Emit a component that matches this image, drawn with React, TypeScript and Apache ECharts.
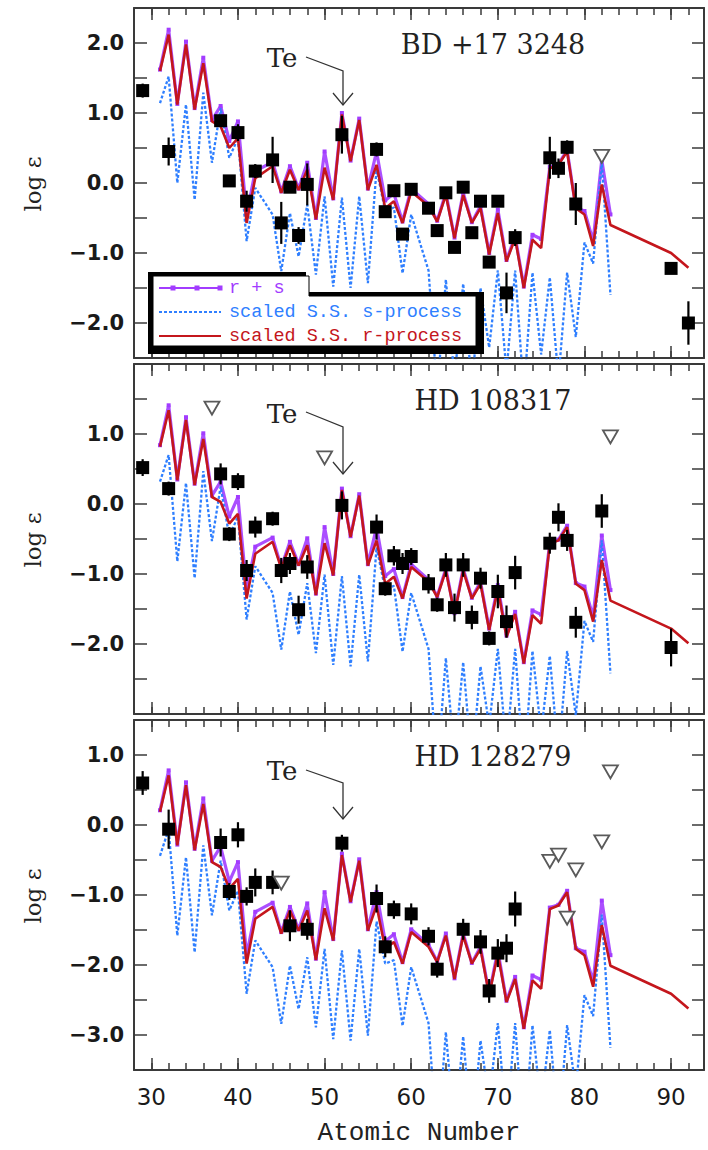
import React, { useEffect, useRef } from "react";
import * as echarts from "echarts";

// ---------- Model curves (BD +17 3248) ----------
const zR = [31, 32, 33, 34, 35, 36, 37, 38, 39, 40, 41, 42, 44, 45, 46, 47, 48, 49, 50, 51, 52, 53, 54, 55, 56, 57, 58, 59, 60, 62, 63, 64, 65, 66, 67, 68, 69, 70, 71, 72, 73, 74, 75, 76, 77, 78, 79, 80, 81, 82, 83, 90, 92];
const rBase = [1.6, 2.12, 1.12, 1.98, 1.05, 1.71, 0.88, 0.81, 0.5, 0.64, -0.57, 0.07, 0.24, -0.14, 0.19, -0.1, 0.19, -0.52, 0.22, -0.24, 0.98, 0.31, 0.9, -0.1, 0.26, -0.36, -0.26, -0.57, -0.12, -0.33, -0.55, -0.17, -0.79, -0.17, -0.57, -0.36, -1.02, -0.43, -1.12, -0.79, -1.5, -0.81, -0.93, 0.21, 0.26, 0.45, -0.36, -0.45, -0.9, -0.02, -0.6, -1.0, -1.21];

const zRS = [31, 32, 33, 34, 35, 36, 37, 38, 39, 40, 41, 42, 44, 45, 46, 47, 48, 49, 50, 51, 52, 53, 54, 55, 56, 57, 58, 59, 60, 62, 63, 64, 65, 66, 67, 68, 69, 70, 71, 72, 73, 74, 75, 76, 77, 78, 79, 80, 81, 82, 83];
const rsBase = [1.62, 2.19, 1.13, 2.02, 1.07, 1.79, 0.9, 1.1, 0.6, 0.88, -0.45, 0.17, 0.3, -0.12, 0.24, -0.08, 0.29, -0.5, 0.45, -0.22, 1.0, 0.32, 0.92, -0.08, 0.45, -0.25, -0.15, -0.55, -0.08, -0.3, -0.54, -0.14, -0.78, -0.14, -0.56, -0.33, -1.0, -0.38, -1.1, -0.76, -1.48, -0.74, -0.8, 0.23, 0.27, 0.47, -0.35, -0.4, -0.83, 0.33, -0.45];

const zS = [31, 32, 33, 34, 35, 36, 37, 38, 39, 40, 41, 42, 44, 45, 46, 47, 48, 49, 50, 51, 52, 53, 54, 55, 56, 57, 58, 59, 60, 61, 62, 63, 64, 65, 66, 67, 68, 69, 70, 71, 72, 73, 74, 75, 76, 77, 78, 79, 80, 81, 82, 83];
const sBase = [1.14, 1.52, 0.0, 1.12, -0.24, 1.29, 0.29, 1.07, 0.36, 0.64, -0.83, -0.07, -0.45, -1.26, -0.43, -1.05, -0.31, -1.31, -0.19, -1.48, -0.21, -1.5, -0.19, -1.43, 0.2, -0.4, -0.35, -1.29, -0.45, -0.85, -1.25, -3.0, -1.38, -2.8, -1.44, -2.9, -1.5, -2.35, -1.25, -2.7, -1.25, -3.0, -1.28, -2.45, -1.35, -2.8, -1.28, -2.2, -0.85, -1.15, 0.3, -1.6];

// scaling of the solar patterns in each panel
const rScale = [0, -0.78, -1.41];
const rsScale = [0, -0.78, -1.41];
const sScale = [0, -0.82, -1.58];

// ---------- Observations ----------
const starNames = ["BD +17 3248", "HD 108317", "HD 128279"];
const yMins = [-2.5, -3.0, -3.5];
const yMaxs = [2.5, 2.0, 1.5];

const obsZ1 = [29, 32, 38, 39, 40, 41, 42, 44, 45, 46, 47, 48, 52, 56, 57, 58, 59, 60, 62, 63, 64, 65, 66, 67, 68, 69, 70, 71, 72, 76, 77, 78, 79, 90, 92];
const obsV1 = [1.32, 0.45, 0.89, 0.03, 0.72, -0.26, 0.17, 0.33, -0.57, -0.06, -0.75, -0.02, 0.69, 0.48, -0.41, -0.11, -0.73, -0.09, -0.36, -0.68, -0.14, -0.92, -0.06, -0.71, -0.26, -1.13, -0.26, -1.57, -0.78, 0.36, 0.21, 0.51, -0.3, -1.22, -2.0];
const obsE1 = [0.1, 0.2, 0.08, 0.0, 0.12, 0.15, 0.1, 0.33, 0.3, 0.0, 0.12, 0.3, 0.27, 0.1, 0.0, 0.0, 0.0, 0.0, 0.0, 0.0, 0.0, 0.0, 0.0, 0.0, 0.0, 0.0, 0.0, 0.29, 0.12, 0.3, 0.14, 0.1, 0.3, 0.05, 0.31];
const limZ1 = [82];
const limV1 = [0.38];

const obsZ2 = [29, 32, 38, 39, 40, 41, 42, 44, 45, 46, 47, 48, 52, 56, 57, 58, 59, 60, 62, 63, 64, 65, 66, 67, 68, 69, 70, 71, 72, 76, 77, 78, 79, 82, 90];
const obsV2 = [0.52, 0.22, 0.43, -0.43, 0.32, -0.95, -0.33, -0.21, -0.95, -0.85, -1.51, -0.9, -0.02, -0.33, -1.21, -0.74, -0.85, -0.75, -1.14, -1.44, -0.87, -1.48, -0.87, -1.62, -1.06, -1.92, -1.25, -1.68, -0.98, -0.56, -0.19, -0.52, -1.69, -0.1, -2.05];
const obsE2 = [0.12, 0.1, 0.15, 0.1, 0.12, 0.15, 0.15, 0.1, 0.18, 0.15, 0.2, 0.17, 0.2, 0.18, 0.1, 0.14, 0.15, 0.12, 0.14, 0.1, 0.17, 0.2, 0.17, 0.17, 0.15, 0.1, 0.24, 0.23, 0.24, 0.15, 0.2, 0.15, 0.22, 0.24, 0.27];
const limZ2 = [37, 50, 83];
const limV2 = [1.37, 0.66, 0.96];

const obsZ3 = [29, 32, 38, 39, 40, 41, 42, 44, 46, 48, 52, 56, 57, 58, 60, 62, 63, 66, 68, 69, 70, 71, 72];
const obsV3 = [0.6, -0.06, -0.25, -0.95, -0.14, -1.02, -0.82, -0.82, -1.44, -1.49, -0.26, -1.05, -1.74, -1.21, -1.27, -1.59, -2.06, -1.49, -1.67, -2.37, -1.83, -1.76, -1.2];
const obsE3 = [0.17, 0.28, 0.2, 0.12, 0.18, 0.13, 0.2, 0.17, 0.22, 0.15, 0.12, 0.2, 0.15, 0.13, 0.15, 0.13, 0.12, 0.15, 0.17, 0.17, 0.2, 0.2, 0.25];
const limZ3 = [45, 76, 77, 78, 79, 82, 83];
const limV3 = [-0.83, -0.52, -0.43, -1.33, -0.64, -0.24, 0.76];

const xMajorTicks = [30, 40, 50, 60, 70, 80, 90];

const obsZ = [obsZ1, obsZ2, obsZ3];
const obsV = [obsV1, obsV2, obsV3];
const obsE = [obsE1, obsE2, obsE3];
const limZ = [limZ1, limZ2, limZ3];
const limV = [limV1, limV2, limV3];

// ---------- Layout ----------
const GRID_LEFT = 134;
const GRID_W = 570;
const GRID_H = 350;
const TOPS = [8, 364, 720];
const X_MIN = 28;
const X_MAX = 93.8;
const AX = "#3a3a3a";
const PURPLE = "#a23cff";
const BLUE = "#2f7fff";
const RED = "#c4161c";

function makeFmt(min: number, max: number) {
  return (v: number) => {
    if (Math.abs(v - Math.round(v)) > 1e-6) return "";
    if (Math.abs(v - min) < 1e-6 || Math.abs(v - max) < 1e-6) return "";
    const s = Math.abs(v).toFixed(1);
    return v < -1e-9 ? "\u2212" + s : s;
  };
}

function buildOption() {
  const grid = TOPS.map((t) => ({ left: GRID_LEFT, top: t, width: GRID_W, height: GRID_H, show: false }));
  const xAxis: any[] = [];
  const yAxis: any[] = [];
  const series: any[] = [];
  const graphic: any[] = [];

  for (let g = 0; g < 3; g++) {
    const base = { type: "value", gridIndex: g, min: X_MIN, max: X_MAX, splitLine: { show: false } };
    for (const pos of ["bottom", "top"]) {
      xAxis.push({
        ...base,
        position: pos,
        interval: 2,
        axisLine: { show: true, onZero: false, lineStyle: { color: AX, width: 2 } },
        axisTick: { show: true, inside: true, length: 7, lineStyle: { color: AX, width: 1.5 } },
        axisLabel: { show: false },
      });
      xAxis.push({
        ...base,
        position: pos,
        axisLine: { show: false, onZero: false },
        axisTick: { show: true, inside: true, length: 12, customValues: xMajorTicks, lineStyle: { color: AX, width: 1.5 } },
        axisLabel: {
          show: g === 2 && pos === "bottom",
          customValues: xMajorTicks,
          fontFamily: "DejaVu Sans",
          fontSize: 23,
          color: "#1a1a1a",
          margin: 15,
        },
      });
    }
    yAxis.push({
      type: "value",
      gridIndex: g,
      min: yMins[g],
      max: yMaxs[g],
      interval: 0.5,
      position: "left",
      splitLine: { show: false },
      axisLine: { show: true, onZero: false, lineStyle: { color: AX, width: 2 } },
      axisTick: { show: true, inside: true, length: 13, lineStyle: { color: AX, width: 1.5 } },
      axisLabel: {
        formatter: makeFmt(yMins[g], yMaxs[g]),
        fontFamily: "DejaVu Sans",
        fontWeight: "bold",
        fontSize: 21,
        color: "#1a1a1a",
        margin: 10,
      },
    });
    yAxis.push({
      type: "value",
      gridIndex: g,
      min: yMins[g],
      max: yMaxs[g],
      interval: 0.5,
      position: "right",
      splitLine: { show: false },
      axisLine: { show: true, onZero: false, lineStyle: { color: AX, width: 2 } },
      axisTick: { show: true, inside: true, length: 12, lineStyle: { color: AX, width: 1.5 } },
      axisLabel: { show: false },
    });

    const xi = g * 4;
    const yi = g * 2;

    series.push({
      type: "line",
      xAxisIndex: xi,
      yAxisIndex: yi,
      data: zRS.map((z, i) => [z, +(rsBase[i] + rsScale[g]).toFixed(3)]),
      symbol: "rect",
      symbolSize: 4,
      itemStyle: { color: PURPLE, opacity: 1 },
      lineStyle: { color: PURPLE, width: 3.2, opacity: 0.9 },
      clip: true,
      z: 2,
    });
    series.push({
      type: "line",
      xAxisIndex: xi,
      yAxisIndex: yi,
      data: zS.map((z, i) => [z, +(sBase[i] + sScale[g]).toFixed(3)]),
      symbol: "none",
      lineStyle: { color: BLUE, width: 2.3, type: [3, 2] },
      clip: true,
      z: 3,
    });
    series.push({
      type: "line",
      xAxisIndex: xi,
      yAxisIndex: yi,
      data: zR.map((z, i) => [z, +(rBase[i] + rScale[g]).toFixed(3)]),
      symbol: "none",
      lineStyle: { color: RED, width: 2.6 },
      clip: true,
      z: 4,
    });
    series.push({
      type: "custom",
      xAxisIndex: xi,
      yAxisIndex: yi,
      data: obsZ[g].map((z, i) => [z, obsV[g][i], obsE[g][i]]),
      encode: { x: 0, y: 1 },
      clip: true,
      z: 5,
      renderItem: (params: any, api: any) => {
        const z = api.value(0);
        const v = api.value(1);
        const e = api.value(2);
        const p1 = api.coord([z, v - e]);
        const p2 = api.coord([z, v + e]);
        return {
          type: "line",
          shape: { x1: p1[0], y1: p1[1], x2: p2[0], y2: p2[1] },
          style: { stroke: "#000", lineWidth: 2.2 },
        };
      },
    });
    series.push({
      type: "scatter",
      xAxisIndex: xi,
      yAxisIndex: yi,
      data: obsZ[g].map((z, i) => [z, obsV[g][i]]),
      symbol: "rect",
      symbolSize: 13,
      itemStyle: { color: "#000", opacity: 1 },
      z: 6,
    });
    series.push({
      type: "scatter",
      xAxisIndex: xi,
      yAxisIndex: yi,
      data: limZ[g].map((z, i) => [z, limV[g][i]]),
      symbol: "triangle",
      symbolRotate: 180,
      symbolSize: [15, 13],
      itemStyle: { color: "#ffffff", opacity: 1, borderColor: "#5a5a5a", borderWidth: 1.8 },
      z: 7,
    });

    const top = TOPS[g];
    graphic.push({
      type: "text",
      x: 493,
      y: top + 36,
      style: { text: starNames[g], fontFamily: "DejaVu Serif", fontSize: 27, fill: "#222", textAlign: "center", textVerticalAlign: "middle" },
      z: 50,
    });
    graphic.push({
      type: "text",
      x: 33,
      y: top + 176,
      rotation: Math.PI / 2,
      style: { text: "log \u03b5", fontFamily: "DejaVu Serif", fontSize: 23, fill: "#222", textAlign: "center", textVerticalAlign: "middle" },
      z: 50,
    });
  }

  // Te annotations
  const teGeom = [
    { ty: 58, sy: 57, by: 71, tip: 105 },
    { ty: 414, sy: 412, by: 427, tip: 474 },
    { ty: 771, sy: 770, by: 783, tip: 819 },
  ];
  teGeom.forEach((t) => {
    graphic.push({
      type: "text",
      x: 282,
      y: t.ty,
      style: { text: "Te", fontFamily: "DejaVu Serif", fontSize: 26, fill: "#222", textAlign: "center", textVerticalAlign: "middle" },
      z: 50,
    });
    graphic.push({
      type: "polyline",
      shape: { points: [[306, t.sy], [343, t.by], [343, t.tip]] },
      style: { stroke: "#333", lineWidth: 1.3, fill: null },
      z: 50,
    });
    graphic.push({
      type: "polyline",
      shape: { points: [[333, t.tip - 12], [343, t.tip], [353, t.tip - 12]] },
      style: { stroke: "#333", lineWidth: 1.3, fill: null },
      z: 50,
    });
  });

  // Legend box (top panel)
  graphic.push({
    type: "polygon",
    shape: { points: [[148, 272], [306, 272], [306, 292], [484, 292], [484, 354], [148, 354]] },
    style: { fill: "#000" },
    z: 60,
  });
  graphic.push({
    type: "polygon",
    shape: { points: [[153, 276], [309, 276], [309, 296], [476, 296], [476, 346], [153, 346]] },
    style: { fill: "#fff", stroke: "#000", lineWidth: 1 },
    z: 61,
  });
  const legRows = [
    { y: 288, color: PURPLE, text: "r + s", dash: null as any, dots: true },
    { y: 312, color: BLUE, text: "scaled S.S. s-process", dash: [3, 2], dots: false },
    { y: 336, color: RED, text: "scaled S.S. r-process", dash: null as any, dots: false },
  ];
  legRows.forEach((r) => {
    graphic.push({
      type: "line",
      shape: { x1: 159, y1: r.y, x2: 221, y2: r.y },
      style: { stroke: r.color, lineWidth: 2.2, lineDash: r.dash },
      z: 62,
    });
    if (r.dots) {
      [173, 197, 220].forEach((x) => {
        graphic.push({ type: "rect", shape: { x: x - 2.5, y: r.y - 2.5, width: 5, height: 5 }, style: { fill: r.color }, z: 63 });
      });
    }
    graphic.push({
      type: "text",
      x: 229,
      y: r.y,
      style: { text: r.text, fontFamily: "Liberation Mono", fontSize: 18.5, fill: r.color, textAlign: "left", textVerticalAlign: "middle" },
      z: 63,
    });
  });

  // x axis title
  graphic.push({
    type: "text",
    x: 419,
    y: 1133,
    style: { text: "Atomic Number", fontFamily: "Liberation Mono", fontSize: 26, fill: "#222", textAlign: "center", textVerticalAlign: "middle" },
    z: 50,
  });

  return {
    animation: false,
    backgroundColor: "#fff",
    grid,
    xAxis,
    yAxis,
    series,
    graphic,
  };
}

export default function App() {
  const ref = useRef<HTMLDivElement>(null);
  useEffect(() => {
    if (!ref.current) return;
    const chart = echarts.init(ref.current, null, { renderer: "svg" });
    chart.setOption(buildOption() as any);
    return () => chart.dispose();
  }, []);
  return <div ref={ref} style={{ position: "absolute", left: 0, top: 0, width: 708, height: 1150, background: "#fff" }} />;
}
